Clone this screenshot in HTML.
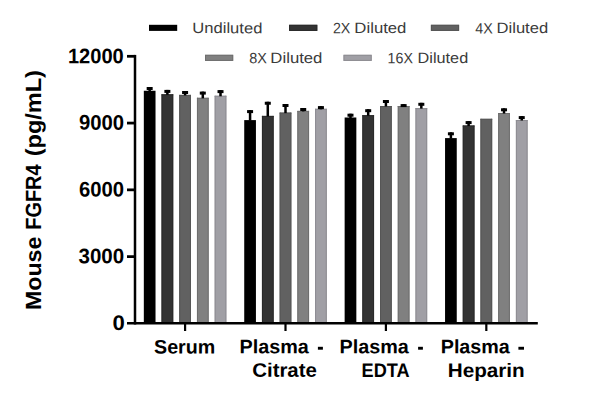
<!DOCTYPE html>
<html><head><meta charset="utf-8"><style>
html,body{margin:0;padding:0;background:#fff;width:600px;height:401px;overflow:hidden}
svg{display:block}
text{font-family:"Liberation Sans",sans-serif}
.tl{font-size:21px;font-weight:bold}
.yl{font-size:22px;font-weight:bold}
.xl{font-size:19.5px;font-weight:bold}
.lg{font-size:15px;fill:#3a3a3a}
</style></head><body>
<svg width="600" height="401" viewBox="0 0 600 401">
<rect x="143.82" y="90.75" width="11.7" height="232.65" fill="#000000"/>
<rect x="148.42" y="87.00" width="2.5" height="4.25" fill="#000"/>
<rect x="146.67" y="87.00" width="6" height="3" fill="#000"/>
<rect x="161.53" y="94.30" width="11.7" height="229.10" fill="#333333"/>
<rect x="161.53" y="94.30" width="1" height="229.10" fill="#2a2a2a"/>
<rect x="172.23" y="94.30" width="1" height="229.10" fill="#2a2a2a"/>
<rect x="161.53" y="94.30" width="11.7" height="1" fill="#2a2a2a"/>
<rect x="166.13" y="89.90" width="2.5" height="4.90" fill="#000"/>
<rect x="164.38" y="89.90" width="6" height="3" fill="#000"/>
<rect x="179.24" y="94.90" width="11.7" height="228.50" fill="#616161"/>
<rect x="179.24" y="94.90" width="1" height="228.50" fill="#555555"/>
<rect x="189.94" y="94.90" width="1" height="228.50" fill="#555555"/>
<rect x="179.24" y="94.90" width="11.7" height="1" fill="#555555"/>
<rect x="183.84" y="91.00" width="2.5" height="4.40" fill="#000"/>
<rect x="182.09" y="91.00" width="6" height="3" fill="#000"/>
<rect x="196.95" y="97.80" width="11.7" height="225.60" fill="#808080"/>
<rect x="196.95" y="97.80" width="1" height="225.60" fill="#6e6e6e"/>
<rect x="207.65" y="97.80" width="1" height="225.60" fill="#6e6e6e"/>
<rect x="196.95" y="97.80" width="11.7" height="1" fill="#6e6e6e"/>
<rect x="201.55" y="91.60" width="2.5" height="6.70" fill="#000"/>
<rect x="199.80" y="91.60" width="6" height="3" fill="#000"/>
<rect x="214.66" y="95.75" width="11.7" height="227.65" fill="#a09fa5"/>
<rect x="214.66" y="95.75" width="1" height="227.65" fill="#8d8c92"/>
<rect x="225.36" y="95.75" width="1" height="227.65" fill="#8d8c92"/>
<rect x="214.66" y="95.75" width="11.7" height="1" fill="#8d8c92"/>
<rect x="219.26" y="90.10" width="2.5" height="6.15" fill="#000"/>
<rect x="217.51" y="90.10" width="6" height="3" fill="#000"/>
<rect x="244.23" y="120.10" width="11.7" height="203.30" fill="#000000"/>
<rect x="248.83" y="110.10" width="2.5" height="10.50" fill="#000"/>
<rect x="247.08" y="110.10" width="6" height="3" fill="#000"/>
<rect x="261.94" y="115.90" width="11.7" height="207.50" fill="#333333"/>
<rect x="261.94" y="115.90" width="1" height="207.50" fill="#2a2a2a"/>
<rect x="272.64" y="115.90" width="1" height="207.50" fill="#2a2a2a"/>
<rect x="261.94" y="115.90" width="11.7" height="1" fill="#2a2a2a"/>
<rect x="266.54" y="101.75" width="2.5" height="14.65" fill="#000"/>
<rect x="264.79" y="101.75" width="6" height="3" fill="#000"/>
<rect x="279.65" y="112.60" width="11.7" height="210.80" fill="#616161"/>
<rect x="279.65" y="112.60" width="1" height="210.80" fill="#555555"/>
<rect x="290.35" y="112.60" width="1" height="210.80" fill="#555555"/>
<rect x="279.65" y="112.60" width="11.7" height="1" fill="#555555"/>
<rect x="284.25" y="104.00" width="2.5" height="9.10" fill="#000"/>
<rect x="282.50" y="104.00" width="6" height="3" fill="#000"/>
<rect x="297.36" y="110.90" width="11.7" height="212.50" fill="#808080"/>
<rect x="297.36" y="110.90" width="1" height="212.50" fill="#6e6e6e"/>
<rect x="308.06" y="110.90" width="1" height="212.50" fill="#6e6e6e"/>
<rect x="297.36" y="110.90" width="11.7" height="1" fill="#6e6e6e"/>
<rect x="301.96" y="108.00" width="2.5" height="3.40" fill="#000"/>
<rect x="300.21" y="108.00" width="6" height="3" fill="#000"/>
<rect x="315.07" y="108.80" width="11.7" height="214.60" fill="#a09fa5"/>
<rect x="315.07" y="108.80" width="1" height="214.60" fill="#8d8c92"/>
<rect x="325.77" y="108.80" width="1" height="214.60" fill="#8d8c92"/>
<rect x="315.07" y="108.80" width="11.7" height="1" fill="#8d8c92"/>
<rect x="319.67" y="106.10" width="2.5" height="3.20" fill="#000"/>
<rect x="317.92" y="106.10" width="6" height="3" fill="#000"/>
<rect x="344.64" y="117.50" width="11.7" height="205.90" fill="#000000"/>
<rect x="349.24" y="113.70" width="2.5" height="4.30" fill="#000"/>
<rect x="347.49" y="113.70" width="6" height="3" fill="#000"/>
<rect x="362.35" y="115.20" width="11.7" height="208.20" fill="#333333"/>
<rect x="362.35" y="115.20" width="1" height="208.20" fill="#2a2a2a"/>
<rect x="373.05" y="115.20" width="1" height="208.20" fill="#2a2a2a"/>
<rect x="362.35" y="115.20" width="11.7" height="1" fill="#2a2a2a"/>
<rect x="366.95" y="109.20" width="2.5" height="6.50" fill="#000"/>
<rect x="365.20" y="109.20" width="6" height="3" fill="#000"/>
<rect x="380.06" y="106.00" width="11.7" height="217.40" fill="#616161"/>
<rect x="380.06" y="106.00" width="1" height="217.40" fill="#555555"/>
<rect x="390.76" y="106.00" width="1" height="217.40" fill="#555555"/>
<rect x="380.06" y="106.00" width="11.7" height="1" fill="#555555"/>
<rect x="384.66" y="100.00" width="2.5" height="6.50" fill="#000"/>
<rect x="382.91" y="100.00" width="6" height="3" fill="#000"/>
<rect x="397.77" y="106.00" width="11.7" height="217.40" fill="#808080"/>
<rect x="397.77" y="106.00" width="1" height="217.40" fill="#6e6e6e"/>
<rect x="408.47" y="106.00" width="1" height="217.40" fill="#6e6e6e"/>
<rect x="397.77" y="106.00" width="11.7" height="1" fill="#6e6e6e"/>
<rect x="402.37" y="104.10" width="2.5" height="2.40" fill="#000"/>
<rect x="400.62" y="104.10" width="6" height="3" fill="#000"/>
<rect x="415.48" y="108.10" width="11.7" height="215.30" fill="#a09fa5"/>
<rect x="415.48" y="108.10" width="1" height="215.30" fill="#8d8c92"/>
<rect x="426.18" y="108.10" width="1" height="215.30" fill="#8d8c92"/>
<rect x="415.48" y="108.10" width="11.7" height="1" fill="#8d8c92"/>
<rect x="420.08" y="102.80" width="2.5" height="5.80" fill="#000"/>
<rect x="418.33" y="102.80" width="6" height="3" fill="#000"/>
<rect x="445.05" y="138.10" width="11.7" height="185.30" fill="#000000"/>
<rect x="449.65" y="132.30" width="2.5" height="6.30" fill="#000"/>
<rect x="447.90" y="132.30" width="6" height="3" fill="#000"/>
<rect x="462.76" y="125.50" width="11.7" height="197.90" fill="#333333"/>
<rect x="462.76" y="125.50" width="1" height="197.90" fill="#2a2a2a"/>
<rect x="473.46" y="125.50" width="1" height="197.90" fill="#2a2a2a"/>
<rect x="462.76" y="125.50" width="11.7" height="1" fill="#2a2a2a"/>
<rect x="467.36" y="121.10" width="2.5" height="4.90" fill="#000"/>
<rect x="465.61" y="121.10" width="6" height="3" fill="#000"/>
<rect x="480.47" y="118.80" width="11.7" height="204.60" fill="#616161"/>
<rect x="480.47" y="118.80" width="1" height="204.60" fill="#555555"/>
<rect x="491.17" y="118.80" width="1" height="204.60" fill="#555555"/>
<rect x="480.47" y="118.80" width="11.7" height="1" fill="#555555"/>
<rect x="498.18" y="113.00" width="11.7" height="210.40" fill="#808080"/>
<rect x="498.18" y="113.00" width="1" height="210.40" fill="#6e6e6e"/>
<rect x="508.88" y="113.00" width="1" height="210.40" fill="#6e6e6e"/>
<rect x="498.18" y="113.00" width="11.7" height="1" fill="#6e6e6e"/>
<rect x="502.78" y="108.30" width="2.5" height="5.20" fill="#000"/>
<rect x="501.03" y="108.30" width="6" height="3" fill="#000"/>
<rect x="515.89" y="120.00" width="11.7" height="203.40" fill="#a09fa5"/>
<rect x="515.89" y="120.00" width="1" height="203.40" fill="#8d8c92"/>
<rect x="526.59" y="120.00" width="1" height="203.40" fill="#8d8c92"/>
<rect x="515.89" y="120.00" width="11.7" height="1" fill="#8d8c92"/>
<rect x="520.49" y="116.10" width="2.5" height="4.40" fill="#000"/>
<rect x="518.74" y="116.10" width="6" height="3" fill="#000"/>
<rect x="133.75" y="54.9" width="2.5" height="269.6" fill="#000"/>
<rect x="127" y="322" width="410.8" height="2.5" fill="#000"/>
<rect x="127" y="255.25" width="8" height="2.75" fill="#000"/>
<rect x="127" y="188.47" width="8" height="2.75" fill="#000"/>
<rect x="127" y="121.70" width="8" height="2.75" fill="#000"/>
<rect x="127" y="54.92" width="8" height="2.75" fill="#000"/>
<rect x="183.99" y="323" width="2.2" height="8" fill="#000"/>
<rect x="284.40" y="323" width="2.2" height="8" fill="#000"/>
<rect x="384.81" y="323" width="2.2" height="8" fill="#000"/>
<rect x="485.22" y="323" width="2.2" height="8" fill="#000"/>
<rect x="149" y="24.8" width="28.2" height="6.1" fill="#000000"/>
<rect x="289.1" y="24.8" width="28.2" height="6.1" fill="#333333"/>
<rect x="289.6" y="25.3" width="27.2" height="5.1" fill="none" stroke="#2a2a2a" stroke-width="1"/>
<rect x="430.9" y="24.8" width="28.2" height="6.1" fill="#616161"/>
<rect x="431.4" y="25.3" width="27.2" height="5.1" fill="none" stroke="#555555" stroke-width="1"/>
<rect x="205" y="54.8" width="28.2" height="6.1" fill="#808080"/>
<rect x="205.5" y="55.3" width="27.2" height="5.1" fill="none" stroke="#6e6e6e" stroke-width="1"/>
<rect x="343.5" y="54.8" width="28.2" height="6.1" fill="#a09fa5"/>
<rect x="344.0" y="55.3" width="27.2" height="5.1" fill="none" stroke="#8d8c92" stroke-width="1"/>
<rect x="317.9" y="346.8" width="5.00" height="2.9" fill="#000"/>
<rect x="418.1" y="346.8" width="4.80" height="2.9" fill="#000"/>
<rect x="518.4" y="346.8" width="5.60" height="2.9" fill="#000"/>
<text x="192.33" y="33.07" transform="rotate(0.1 192.33 33.07)" class="lg" textLength="70.03" lengthAdjust="spacingAndGlyphs">Undiluted</text>
<text x="332.94" y="33.32" transform="rotate(0.1 332.94 33.32)" class="lg" textLength="17.44" lengthAdjust="spacingAndGlyphs">2X</text>
<text x="354.39" y="33.04" transform="rotate(0.1 354.39 33.04)" class="lg" textLength="52.06" lengthAdjust="spacingAndGlyphs">Diluted</text>
<text x="475.35" y="33.48" transform="rotate(0.1 475.35 33.48)" class="lg" textLength="17.46" lengthAdjust="spacingAndGlyphs">4X</text>
<text x="496.57" y="33.06" transform="rotate(0.1 496.57 33.06)" class="lg" textLength="51.58" lengthAdjust="spacingAndGlyphs">Diluted</text>
<text x="249.24" y="63.28" transform="rotate(0.1 249.24 63.28)" class="lg" textLength="17.61" lengthAdjust="spacingAndGlyphs">8X</text>
<text x="270.39" y="62.92" transform="rotate(0.1 270.39 62.92)" class="lg" textLength="52.06" lengthAdjust="spacingAndGlyphs">Diluted</text>
<text x="387.60" y="63.24" transform="rotate(0.1 387.60 63.24)" class="lg" textLength="25.30" lengthAdjust="spacingAndGlyphs">16X</text>
<text x="417.64" y="62.96" transform="rotate(0.1 417.64 62.96)" class="lg" textLength="50.57" lengthAdjust="spacingAndGlyphs">Diluted</text>
<text x="67.95" y="63.30" transform="rotate(0.1 67.95 63.30)" class="tl" textLength="55.85" lengthAdjust="spacingAndGlyphs">12000</text>
<text x="78.91" y="129.62" transform="rotate(0.1 78.91 129.62)" class="tl" textLength="45.09" lengthAdjust="spacingAndGlyphs">9000</text>
<text x="78.96" y="196.56" transform="rotate(0.1 78.96 196.56)" class="tl" textLength="45.03" lengthAdjust="spacingAndGlyphs">6000</text>
<text x="78.49" y="263.31" transform="rotate(0.1 78.49 263.31)" class="tl" textLength="45.64" lengthAdjust="spacingAndGlyphs">3000</text>
<text x="112.41" y="330.14" transform="rotate(0.1 112.41 330.14)" class="tl" textLength="12.30" lengthAdjust="spacingAndGlyphs">0</text>
<text x="154.07" y="353.40" transform="rotate(0.1 154.07 353.40)" class="xl" textLength="61.19" lengthAdjust="spacingAndGlyphs">Serum</text>
<text x="239.59" y="353.24" transform="rotate(0.1 239.59 353.24)" class="xl" textLength="69.29" lengthAdjust="spacingAndGlyphs">Plasma</text>
<text x="252.26" y="376.69" transform="rotate(0.1 252.26 376.69)" class="xl" textLength="64.57" lengthAdjust="spacingAndGlyphs">Citrate</text>
<text x="339.59" y="353.24" transform="rotate(0.1 339.59 353.24)" class="xl" textLength="69.29" lengthAdjust="spacingAndGlyphs">Plasma</text>
<text x="361.62" y="376.96" transform="rotate(0.1 361.62 376.96)" class="xl" textLength="47.95" lengthAdjust="spacingAndGlyphs">EDTA</text>
<text x="440.74" y="353.26" transform="rotate(0.1 440.74 353.26)" class="xl" textLength="69.09" lengthAdjust="spacingAndGlyphs">Plasma</text>
<text x="447.78" y="376.91" transform="rotate(0.1 447.78 376.91)" class="xl" textLength="76.95" lengthAdjust="spacingAndGlyphs">Heparin</text>
<text transform="translate(40.93,310.11) rotate(-89.9)" class="yl" textLength="73.48" lengthAdjust="spacingAndGlyphs">Mouse</text>
<text transform="translate(40.93,229.73) rotate(-89.9)" class="yl" textLength="65.32" lengthAdjust="spacingAndGlyphs">FGFR4</text>
<text transform="translate(40.93,156.25) rotate(-89.9)" class="yl" textLength="86.20" lengthAdjust="spacingAndGlyphs">(pg/mL)</text>
</svg>
</body></html>
